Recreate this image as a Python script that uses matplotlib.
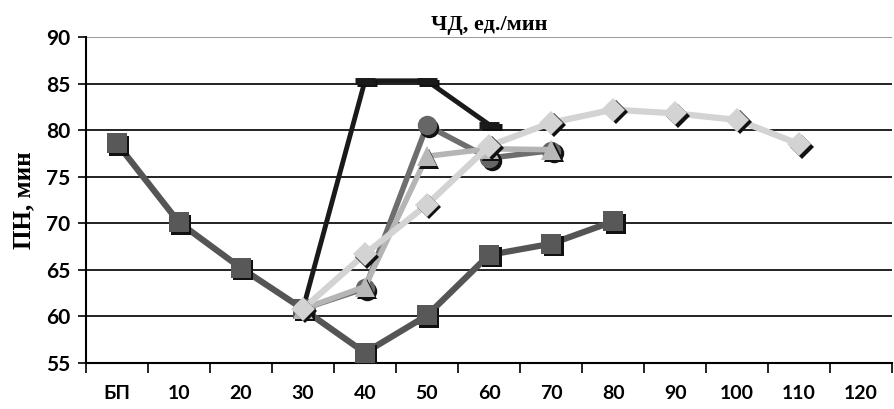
import numpy as np
import matplotlib
matplotlib.use("Agg")
import matplotlib.pyplot as plt
from matplotlib.transforms import offset_copy

categories = ["БП", "10", "20", "30", "40", "50", "60", "70", "80", "90", "100", "110", "120"]
nan = np.nan

# values per category position
sq_vals = [78.6, 70.1, 65.2, 60.8, 56.1, 60.1, 66.6, 67.8, 70.2, nan, nan, nan, nan]
black_vals = [nan, nan, nan, 60.8, 85.3, 85.3, 80.6, nan, nan, nan, nan, nan, nan]
circ_vals = [nan, nan, nan, 60.8, 63.0, 80.5, 77.0, 77.8, nan, nan, nan, nan, nan]
tri_vals = [nan, nan, nan, 60.8, 63.2, 77.2, 78.0, 77.9, nan, nan, nan, nan, nan]
dia_vals = [nan, nan, nan, 60.8, 66.7, 72.0, 78.3, 80.8, 82.2, 81.8, 81.1, 78.5, nan]

yticks = [55, 60, 65, 70, 75, 80, 85, 90]

tick_font = ["Lato", "DejaVu Sans"]
serif_font = ["Liberation Serif", "DejaVu Serif"]

fig = plt.figure(figsize=(8.94, 4.09), dpi=100)
ax = fig.add_axes([0.096, 0.1125, 0.902, 0.797])
x = np.arange(len(categories))

shadow = offset_copy(ax.transData, fig=fig, x=2.5, y=-2.5, units="dots")


def series(vals, lcolor, lw, marker, mcolor, ms, z):
    v = np.array(vals, dtype=float)
    m = ~np.isnan(v)
    ax.plot(x[m], v[m], color=lcolor, lw=lw, zorder=z, solid_capstyle="butt")
    ax.plot(x[m], v[m], ls="none", marker=marker, ms=ms, mfc="#111111",
            mec="#111111", mew=0, transform=shadow, zorder=z + 0.1)
    ax.plot(x[m], v[m], ls="none", marker=marker, ms=ms, mfc=mcolor,
            mec=mcolor, mew=0, zorder=z + 0.2)


# black line with flat markers
vb = np.array(black_vals)
mb = ~np.isnan(vb)
ax.plot(x[mb], vb[mb], color="#1a1a1a", lw=3.5, zorder=3)
ax.plot(x[mb], vb[mb], ls="none", marker="_", ms=14, mew=5, color="#111111",
        transform=shadow, zorder=3.1)
ax.plot(x[mb], vb[mb], ls="none", marker="_", ms=14, mew=5, color="#1a1a1a",
        zorder=3.2)

series(sq_vals, "#555555", 4.5, "s", "#585858", 15, 4)
series(circ_vals, "#6e6e6e", 4, "o", "#666666", 14, 5)
series(tri_vals, "#b5b5b5", 4, "^", "#b8b8b8", 14, 6)
series(dia_vals, "#d3d3d3", 4.5, "D", "#d3d3d3", 12, 7)

ax.set_xlim(-0.5, len(categories) - 0.5)
ax.set_ylim(55, 90)
ax.set_xticks(x)
ax.set_xticklabels(categories, fontfamily=tick_font, fontsize=14, fontweight="bold")
ax.set_yticks(yticks)
ax.set_yticklabels([str(v) for v in yticks], fontfamily=tick_font,
                   fontsize=15, fontweight="bold")
ax.set_xticks(np.arange(-0.5, len(categories), 1), minor=True)
ax.tick_params(axis="x", which="major", length=0, pad=16)
ax.tick_params(axis="x", which="minor", length=7, width=1.2, direction="out")
ax.tick_params(axis="y", length=6, width=1.2, direction="out", pad=5)

ax.grid(axis="y", color="#222222", lw=1.4)
ax.set_axisbelow(True)
for s in ["top", "right"]:
    ax.spines[s].set_visible(False)
ax.spines["left"].set_linewidth(1.5)
ax.spines["bottom"].set_linewidth(1.5)
ax.get_ygridlines()[-1].set_color("#999999")

ax.set_title("ЧД, ед./мин", fontfamily=serif_font, fontsize=16,
             fontweight="bold", pad=5)
ax.set_ylabel("ПН, мин", fontfamily=serif_font, fontsize=18,
              fontweight="bold", labelpad=8)

fig.savefig("out.png", dpi=100)
